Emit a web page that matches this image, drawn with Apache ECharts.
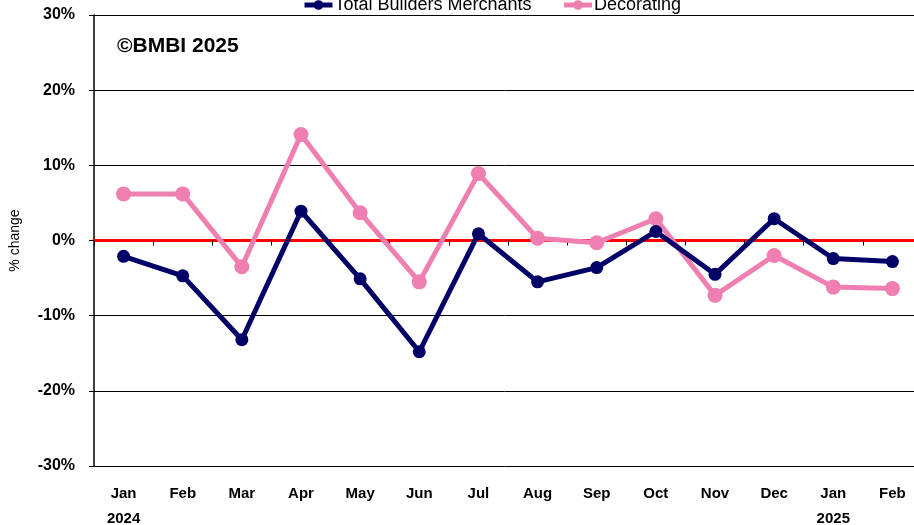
<!DOCTYPE html>
<html>
<head>
<meta charset="utf-8">
<script src="https://cdn.jsdelivr.net/npm/echarts@6/dist/echarts.min.js"></script>
<style>
  html, body { margin: 0; padding: 0; background: #fff; }
  #container { width: 914px; height: 525px; }
</style>
</head>
<body>
<div id="container"></div>
<script>
var months = ['Jan\n2024', 'Feb', 'Mar', 'Apr', 'May', 'Jun', 'Jul', 'Aug', 'Sep', 'Oct', 'Nov', 'Dec', 'Jan\n2025', 'Feb'];
var totalBM = [-2.1, -4.7, -13.2, 3.9, -5.1, -14.8, 0.9, -5.5, -3.6, 1.2, -4.5, 2.9, -2.4, -2.8];
var decorating = [6.2, 6.2, -3.5, 14.1, 3.7, -5.5, 8.9, 0.3, -0.3, 2.9, -7.3, -2.0, -6.2, -6.4];

var dom = document.getElementById('container');
var myChart = echarts.init(dom);
var font = '"Liberation Sans Narrow", "Liberation Sans", Arial, sans-serif';

var option = {
    animation: false,
    legend: {
        top: -9,
        left: 297,
        itemWidth: 28,
        itemHeight: 12,
        itemGap: 30,
        lineStyle: { width: 5 },
        textStyle: { fontSize: 18, color: '#000', fontFamily: font, padding: [0, 0, 0, -3] }
    },
    graphic: [{
        type: 'text',
        left: 117,
        top: 36,
        style: { text: '©BMBI 2025', fontSize: 21, fontWeight: 'bold', fill: '#000', fontFamily: font }
    }],
    grid: { left: 94, right: -8, top: 15, bottom: 59, outerBoundsMode: 'none' },
    xAxis: [{
        type: 'category',
        data: months,
        position: 'bottom',
        axisLine: { onZero: true, lineStyle: { color: '#ff0000', width: 3 } },
        axisTick: { show: true, length: 5, lineStyle: { color: '#000', width: 1 } },
        axisLabel: { show: false }
    }, {
        type: 'category',
        data: months,
        position: 'bottom',
        axisLine: { show: false, onZero: false },
        axisTick: { show: false },
        axisLabel: { margin: 15, color: '#000', fontWeight: 'bold', fontSize: 15, lineHeight: 25, fontFamily: font }
    }],
    yAxis: {
        type: 'value',
        min: -30,
        max: 30,
        interval: 10,
        name: '% change',
        nameLocation: 'middle',
        nameGap: 72,
        nameTextStyle: { fontSize: 14, color: '#000', fontFamily: font },
        axisLine: { show: true, lineStyle: { color: '#000', width: 1.5 } },
        axisTick: { show: true, length: 5, lineStyle: { color: '#000' } },
        axisLabel: {
            margin: 19,
            color: '#000',
            fontWeight: 'bold',
            fontSize: 16,
            fontFamily: font,
            formatter: '{value}%'
        },
        splitLine: { lineStyle: { color: '#000', width: 1 } }
    },
    series: [{
        name: 'Total Builders Merchants',
        type: 'line',
        data: totalBM,
        symbol: 'circle',
        symbolSize: 13,
        z: 3,
        lineStyle: { color: '#000066', width: 5 },
        itemStyle: { color: '#000066' }
    }, {
        name: 'Decorating',
        type: 'line',
        data: decorating,
        symbol: 'circle',
        symbolSize: 15,
        z: 2,
        lineStyle: { color: '#f07fb1', width: 5 },
        itemStyle: { color: '#f07fb1' }
    }]
};
myChart.setOption(option);
</script>
</body>
</html>
